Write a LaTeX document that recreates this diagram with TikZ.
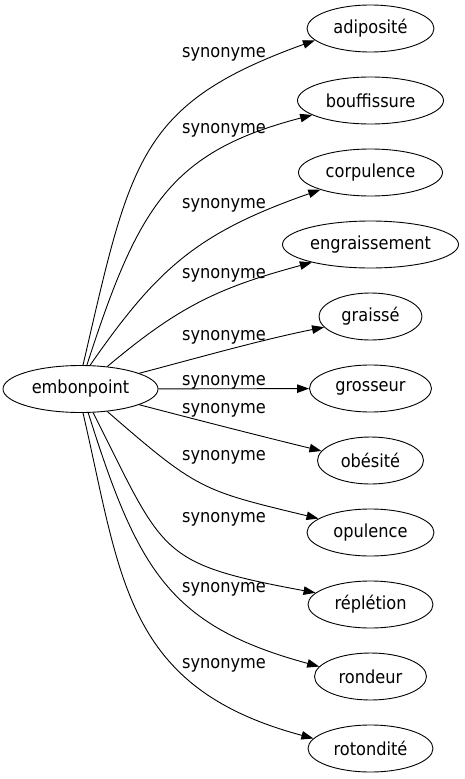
\documentclass[tikz,border=0pt]{standalone}
\usepackage{fontspec}
\setmainfont{DejaVu Sans Condensed}
\usetikzlibrary{arrows.meta, shapes.geometric}

\begin{document}
\begin{tikzpicture}[x=1pt, y=-1pt,
        word/.style={draw, ellipse, line width=0.9pt, inner sep=0pt, minimum height=47pt, font=\fontsize{18}{21}\selectfont},
        rel/.style={inner sep=0pt, font=\fontsize{18}{21}\selectfont},
        syn/.style={-{Triangle[length=12pt, width=8.5pt]}, line width=0.9pt}]
        \useasboundingbox (0,0) rectangle (465,779);

        \node[word, minimum width=155pt] (embonpoint) at (80.5,389) {embonpoint};

        % synonyms, top to bottom
        \foreach \n/\t/\w [count=\i from 0] in {adiposite/adiposité/127, bouffissure/bouffissure/146, corpulence/corpulence/144, engraissement/engraissement/176, graisse/graissé/103, grosseur/grosseur/122, obesite/obésité/106, opulence/opulence/127, repletion/réplétion/125, rondeur/rondeur/112, rotondite/rotondité/125} {
            \node[word, minimum width=\w pt] (\n) at (370.5, 28.5+72*\i) {\t};
        }

        % edge labels
        \foreach \y [count=\i] in {54, 130, 205, 275, 337, 382, 410, 457, 519, 589, 665} {
            \node[rel] (syn\i) at (224,\y) {synonyme};
        }

        \draw[syn] (embonpoint.84) .. controls (130.5,160.5) and (138,104) .. (adiposite.192);
        \draw[syn] (embonpoint.75) .. controls (138,207) and (170,152) .. (bouffissure.194);
        \draw[syn] (embonpoint.68) .. controls (157,269) and (196.5,233) .. (corpulence.199);
        \draw[syn] (embonpoint.40) .. controls (177.6,307.5) and (216.4,288.1) .. (engraissement.197);
        \draw[syn] (embonpoint.15) .. controls (190,360) and (260,340) .. (graisse.193);
        \draw[syn] (embonpoint) -- (grosseur);
        \draw[syn] (embonpoint.345) .. controls (190,418) and (260,436) .. (obesite.169);
        \draw[syn] (embonpoint.320) .. controls (198,490.3) and (201.5,490.3) .. (opulence.165);
        \draw[syn] (embonpoint.298) .. controls (165,554.7) and (156.8,563.3) .. (repletion.168);
        \draw[syn] (embonpoint.288) .. controls (138,571) and (170,626) .. (rondeur.169);
        \draw[syn] (embonpoint.276) .. controls (121.4,579) and (124.6,688) .. (rotondite.170);

    \end{tikzpicture}
\end{document}
